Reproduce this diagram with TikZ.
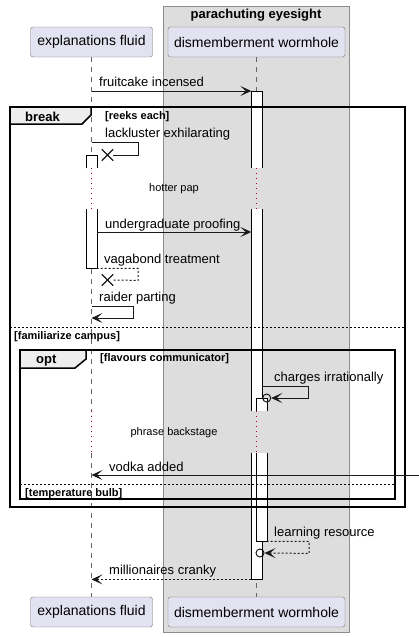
\documentclass[tikz,border=0pt]{standalone}
\usepackage{fontspec}
\setmainfont{Liberation Sans}
\usetikzlibrary{arrows.meta,shapes.misc}

\definecolor{partfill}{HTML}{E2E2F0}
\definecolor{grpfill}{HTML}{DDDDDD}
\definecolor{tabfill}{HTML}{EEEEEE}
\definecolor{delayred}{HTML}{A80036}

\begin{document}
\begin{tikzpicture}[x=1pt, y=-1pt,
    part/.style={draw=black!55, fill=partfill, rounded corners=2.5pt, minimum height=30pt, inner sep=0pt, font=\fontsize{14}{16}\selectfont},
    life/.style={draw=black!60, dash pattern=on 5pt off 5pt, line width=0.6pt},
    pause/.style={draw=delayred, dash pattern=on 1pt off 4pt, line width=1pt},
    actbar/.style={fill=white, minimum width=10pt, inner sep=0pt, anchor=north},
    wire/.style={draw=black!90, line width=1pt},
    msg/.style={wire, -{Stealth[length=11pt,width=10pt,inset=5.5pt]}},
    reply/.style={msg, dash pattern=on 2pt off 2pt},
    lbl/.style={anchor=base west, inner sep=0pt, font=\fontsize{13}{15}\selectfont},
    guard/.style={anchor=base west, inner sep=0pt, font=\fontsize{11}{13}\selectfont\bfseries},
    pausetext/.style={inner sep=0pt, font=\fontsize{11}{13}\selectfont},
    frame/.style={draw=black, line width=1.8pt},
    tab/.style={draw=black, line width=1.5pt, fill=tabfill},
    sep/.style={draw=black, line width=0.8pt, dash pattern=on 2pt off 2pt},
    lost/.style={draw=black!90, cross out, minimum size=10pt, inner sep=0pt, line width=1.4pt},
    found/.style={draw=black!90, circle, minimum size=8pt, inner sep=0pt, line width=1pt}]
  \useasboundingbox (0,0) rectangle (419,637);

  % box round the second participant
  \draw[draw=black!45, fill=grpfill] (163,6) rectangle (349,632);
  \node[font=\fontsize{13}{15}\selectfont\bfseries, anchor=base] (grp) at (256,18) {parachuting eyesight};

  \foreach \yy/\tag in {42/top, 612/bot}{
    \node[part, minimum width=122pt] (fluid-\tag) at (91.5,\yy) {explanations fluid};
    \node[part, minimum width=177pt] (worm-\tag) at (256.5,\yy) {dismemberment wormhole};
  }

  % lifelines, dotted where the delays are
  \foreach \ln in {fluid,worm}{
    \draw[life] (\ln-top.south) -- (\ln-top |- 0,168);
    \draw[pause] (\ln-top |- 0,168) -- (\ln-top |- 0,209);
    \draw[life] (\ln-top |- 0,209) -- (\ln-top |- 0,411);
    \draw[pause] (\ln-top |- 0,411) -- (\ln-top |- 0,453);
    \draw[life] (\ln-top |- 0,453) -- (\ln-bot.north);
  }

  % activations
  \node[actbar, minimum height=77pt] (wa1) at (256.5,91) {};
  \draw (wa1.south west) -- (wa1.north west) -- (wa1.north east) -- (wa1.south east);
  \node[actbar, minimum height=202pt] (wa2) at (256.5,209) {};
  \draw (wa2.north west) -- (wa2.south west) (wa2.north east) -- (wa2.south east);
  \node[actbar, minimum height=13pt] (wa3) at (261.5,398) {};
  \draw (wa3.south west) -- (wa3.north west) -- (wa3.north east) -- (wa3.south east);
  \node[actbar, minimum height=126pt] (wa4) at (256.5,453) {};
  \draw (wa4.north west) -- (wa4.south west) -- (wa4.south east) -- (wa4.north east);
  \node[actbar, minimum height=88pt] (wa5) at (261.5,453) {};
  \draw (wa5.north west) -- (wa5.south west) -- (wa5.south east) -- (wa5.north east);
  \node[actbar, minimum height=13pt] (fa1) at (91.5,155) {};
  \draw (fa1.south west) -- (fa1.north west) -- (fa1.north east) -- (fa1.south east);
  \node[actbar, minimum height=59pt] (fa2) at (91.5,209) {};
  \draw (fa2.north west) -- (fa2.south west) -- (fa2.south east) -- (fa2.north east);

  % break frame
  \draw[frame] (10,107) rectangle (405,507);
  \draw[tab] (10,107) -- (91,107) -- (91,115) -- (82,124) -- (10,124) -- cycle;
  \node[anchor=base west, inner sep=0pt, font=\fontsize{13}{15}\selectfont\bfseries] (brk) at (25,121) {break};
  \node[guard] (g1) at (105,119.5) {[reeks each]};
  \draw[sep] (10,327) -- (405,327);
  \node[guard] (g2) at (14,339) {[familiarize campus]};

  % opt frame
  \draw[frame] (20,350) rectangle (395,499);
  \draw[tab] (20,350) -- (86,350) -- (86,359) -- (75,368) -- (20,368) -- cycle;
  \node[anchor=base west, inner sep=0pt, font=\fontsize{13}{15}\selectfont\bfseries] (opt) at (36,363) {opt};
  \node[guard] (g3) at (100,361.5) {[flavours communicator]};
  \draw[sep] (20,484) -- (395,484);
  \node[guard] (g4) at (25,496.5) {[temperature bulb]};

  % messages
  \draw[msg] (fluid-top |- wa1.north) -- (wa1.north west);
  \node[lbl] (m1) at (99,86.5) {fruitcake incensed};

  \node[lost] (x1) at (107.5,155) {};
  \draw[wire] (fluid-top |- 0,142) -- ++(46.5,0) -- ++(0,13) -- (x1.east);
  \node[lbl] (m2) at (105,137.3) {lackluster exhilarating};

  \node[pausetext] (d1) at (174,189) {hotter pap};

  \draw[msg] (fa2.east |- 0,232) -- (wa2.west |- 0,232);
  \node[lbl] (m3) at (105,228) {undergraduate proofing};

  \node[lost] (x2) at (107.5,280) {};
  \draw[wire, dash pattern=on 2pt off 2pt] (fa2.south east) -- ++(41.5,0) -- ++(0,12) -- (x2.east);
  \node[lbl] (m4) at (104,263.3) {vagabond treatment};

  \draw[msg] (fluid-top |- 0,306) -- ++(41.5,0) -- ++(0,12) -- (fluid-top |- 0,318);
  \node[lbl] (m5) at (99,301.7) {raider parting};

  \node[found] (c1) at (wa3.north east) {};
  \draw[msg] (wa2.east |- 0,386) -- ++(46.5,0) -- ++(0,12) -- (c1.east);
  \node[lbl] (m6) at (274,381.7) {charges irrationally};

  \node[pausetext] (d2) at (174,433) {phrase backstage};

  \coordinate (edge) at (419,475);
  \draw[msg] (edge) -- (fluid-top |- edge);
  \node[lbl] (m7) at (109,471.7) {vodka added};

  \node[found] (c2) at (260,553) {};
  \draw[reply] (wa5.south east) -- ++(42.5,0) -- ++(0,12) -- (c2.east);
  \node[lbl] (m8) at (274,536.7) {learning resource};

  \draw[reply] (wa4.south west) -- (fluid-top |- wa4.south);
  \node[lbl] (m9) at (109,574.7) {millionaires cranky};

\end{tikzpicture}
\end{document}
